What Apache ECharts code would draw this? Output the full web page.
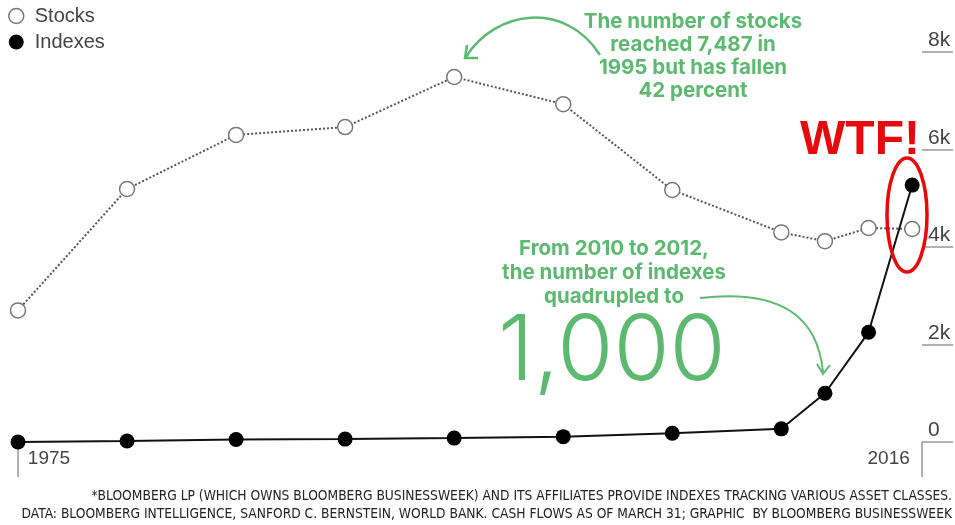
<!DOCTYPE html>
<html>
<head>
<meta charset="utf-8">
<script src="https://cdn.jsdelivr.net/npm/echarts@6/dist/echarts.min.js"></script>
<style>
  html, body { margin: 0; padding: 0; background: #fff; }
  #chart { width: 955px; height: 525px; }
</style>
</head>
<body>
<div id="chart"></div>
<script>
// values
const years = [1975, 1980, 1985, 1990, 1995, 2000, 2005, 2010, 2012, 2014, 2016];
const stocks = [2700, 5190, 6300, 6460, 7487, 6930, 5170, 4300, 4120, 4390, 4370];
const indexes = [0, 20, 50, 60, 80, 110, 180, 270, 1000, 2250, 5270];
const yTicks = [0, 2000, 4000, 6000, 8000];
const xLabelYears = [1975, 2016];

const green = "#5cb96f";
const axisFont = "'Liberation Sans', Arial, sans-serif";
const noteFont = "Inter, 'Open Sans', sans-serif";
const footFont = "'Liberation Sans Narrow', 'DejaVu Sans Condensed', sans-serif";

const chart = echarts.init(document.getElementById("chart"), null, { renderer: "canvas" });

function pairs(vals) {
  return years.map((y, i) => [y, vals[i]]);
}

const option = {
  animation: false,
  textStyle: { fontFamily: axisFont },
  grid: { left: 18, right: 33, top: 52, bottom: 83 },
  legend: {
    orient: "vertical",
    left: 3,
    top: 1,
    itemGap: 6,
    itemWidth: 15,
    itemHeight: 15,
    textStyle: { fontSize: 20, color: "#444", fontFamily: axisFont, padding: [0, 0, 0, 6] },
    data: [
      { name: "Stocks", icon: "circle", itemStyle: { color: "#fff", borderColor: "#777", borderWidth: 1.5 } },
      { name: "Indexes", icon: "circle", itemStyle: { color: "#000" } },
    ],
  },
  xAxis: {
    type: "value",
    min: 1975,
    max: 2016.45,
    axisLine: { show: false },
    splitLine: { show: false },
    axisTick: {
      show: true,
      customValues: [1975, 2016.45],
      length: 35,
      lineStyle: { color: "#999", width: 1.5 },
    },
    axisLabel: {
      customValues: xLabelYears,
      margin: 7,
      fontSize: 19,
      color: "#444",
      formatter: (v) => (v === xLabelYears[0] ? "{l|" + v + "}" : "{r|" + v + "}"),
      rich: {
        l: { fontSize: 19, color: "#444", padding: [0, 0, 0, 62] },
        r: { fontSize: 19, color: "#444", padding: [0, 47, 0, 0] },
      },
    },
  },
  yAxis: {
    type: "value",
    position: "right",
    min: 0,
    max: 8000,
    interval: 2000,
    axisLine: { show: false },
    splitLine: { show: false },
    axisTick: { show: true, length: 31, lineStyle: { color: "#999", width: 1.5 } },
    axisLabel: {
      customValues: yTicks,
      margin: 6,
      align: "left",
      verticalAlign: "bottom",
      fontSize: 21,
      color: "#444",
      padding: [0, 0, 1, 0],
      formatter: (v) => (v === 0 ? "0" : v / 1000 + "k"),
    },
  },
  series: [
    {
      name: "Stocks",
      type: "line",
      data: pairs(stocks),
      symbol: "circle",
      symbolSize: 15,
      lineStyle: { type: "dotted", color: "#555", width: 2 },
      itemStyle: { color: "#fff", borderColor: "#777", borderWidth: 1.5 },
      z: 2,
    },
    {
      name: "Indexes",
      type: "line",
      data: pairs(indexes),
      symbol: "circle",
      symbolSize: 15,
      lineStyle: { color: "#111", width: 2 },
      itemStyle: { color: "#000" },
      z: 3,
    },
  ],
  graphic: [
    {
      type: "text",
      x: 693, y: 10,
      style: {
        text: "The number of stocks\nreached 7,487 in\n1995 but has fallen\n42 percent",
        font: "bold 20.5px " + noteFont,
        fill: green,
        align: "center",
        verticalAlign: "top",
        lineHeight: 23,
      },
    },
    {
      type: "bezierCurve",
      shape: { x1: 600, y1: 55, cpx1: 565, cpy1: 0, cpx2: 495, cpy2: 10, x2: 466, y2: 57 },
      style: { stroke: green, lineWidth: 2.5, fill: null },
    },
    {
      type: "polyline",
      shape: { points: [[467, 45], [465, 58], [478, 58]] },
      style: { stroke: green, lineWidth: 2.5, fill: null },
    },
    {
      type: "text",
      x: 614, y: 237,
      style: {
        text: "From 2010 to 2012,\nthe number of indexes\nquadrupled to",
        font: "bold 20.5px " + noteFont,
        fill: green,
        align: "center",
        verticalAlign: "top",
        lineHeight: 24,
      },
    },
    {
      type: "text",
      x: 498, y: 307,
      style: { text: "1,000", font: "300 91px " + noteFont, fill: green, verticalAlign: "top" },
    },
    {
      type: "bezierCurve",
      shape: { x1: 700, y1: 298, cpx1: 785, cpy1: 288, cpx2: 818, cpy2: 320, x2: 823, y2: 372 },
      style: { stroke: green, lineWidth: 2, fill: null },
    },
    {
      type: "polyline",
      shape: { points: [[817, 364], [823, 374], [830, 365]] },
      style: { stroke: green, lineWidth: 2, fill: null },
    },
    {
      type: "text",
      x: 800, y: 117,
      style: { text: "WTF!", font: "bold 48px 'Liberation Sans', Arial, sans-serif", fill: "#e8090c", verticalAlign: "top" },
    },
    {
      type: "ellipse",
      shape: { cx: 907, cy: 215, rx: 20, ry: 57 },
      style: { stroke: "#e8090c", lineWidth: 3.5, fill: null },
      z: 10,
    },
    {
      type: "text",
      x: 952, y: 489,
      style: {
        text: "*BLOOMBERG LP (WHICH OWNS BLOOMBERG BUSINESSWEEK) AND ITS AFFILIATES PROVIDE INDEXES TRACKING VARIOUS ASSET CLASSES.",
        font: "13.7px " + footFont,
        fill: "#222",
        align: "right",
        verticalAlign: "top",
      },
    },
    {
      type: "text",
      x: 952, y: 507,
      style: {
        text: "DATA: BLOOMBERG INTELLIGENCE, SANFORD C. BERNSTEIN, WORLD BANK. CASH FLOWS AS OF MARCH 31; GRAPHIC  BY BLOOMBERG BUSINESSWEEK",
        font: "13.7px " + footFont,
        fill: "#222",
        align: "right",
        verticalAlign: "top",
      },
    },
  ],
};

chart.setOption(option);
</script>
</body>
</html>
